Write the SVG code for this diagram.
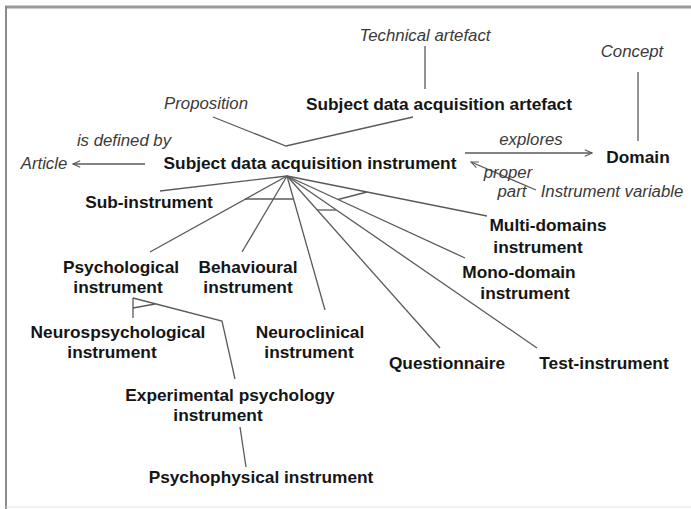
<svg xmlns="http://www.w3.org/2000/svg" width="691" height="509" viewBox="0 0 691 509">
<style>
.b{font-family:"Liberation Sans",Arial,sans-serif;font-weight:bold;font-size:17.3px;fill:#151515;text-anchor:middle}
.i{font-family:"Liberation Sans",Arial,sans-serif;font-style:italic;font-size:16.8px;fill:#3a3a3a;text-anchor:middle}
.c line,.c polyline{stroke:#5a5a5a;stroke-width:1.3;fill:none}
</style>
<defs>
<marker id="ah" viewBox="0 0 10 10" refX="9" refY="5" markerWidth="9" markerHeight="9" markerUnits="userSpaceOnUse" orient="auto">
<polyline points="1,1.5 9,5 1,8.5" fill="none" stroke="#5a5a5a" stroke-width="1.2"/>
</marker>
</defs>
<rect width="691" height="509" fill="#fff"/>
<g id="frame">
<line x1="5" y1="7" x2="691" y2="7" stroke="#9a9a9a" stroke-width="3"/>
<line x1="6" y1="6" x2="6" y2="509" stroke="#8a8a8a" stroke-width="2"/>
<line x1="6" y1="507" x2="691" y2="507" stroke="#e2e2e2" stroke-width="1"/>
</g>
<g id="connectors" class="c">
<line x1="425" y1="46" x2="425" y2="89"/>
<line x1="638" y1="72" x2="638" y2="141"/>
<polyline points="213,117 286,146 413,117"/>
<line x1="145" y1="164" x2="73" y2="164" marker-end="url(#ah)"/>
<line x1="465" y1="153" x2="592" y2="153" marker-end="url(#ah)"/>
<line x1="536" y1="190" x2="471" y2="162" marker-end="url(#ah)"/>
<line x1="287" y1="176" x2="160" y2="191"/>
<line x1="287" y1="176" x2="150" y2="252"/>
<line x1="287" y1="176" x2="242" y2="252"/>
<line x1="287" y1="176" x2="325" y2="310"/>
<line x1="287" y1="176" x2="440" y2="348"/>
<line x1="287" y1="176" x2="537" y2="348"/>
<line x1="287" y1="176" x2="465" y2="258"/>
<line x1="287" y1="176" x2="487" y2="216"/>
<line x1="245" y1="199" x2="293" y2="199"/>
<line x1="338" y1="199.5" x2="367" y2="192"/>
<line x1="317" y1="210" x2="336" y2="210"/>
<line x1="133" y1="298" x2="133" y2="318"/>
<polyline points="133,298 222,321 235,379"/>
<line x1="133" y1="308" x2="155" y2="304"/>
<line x1="240" y1="427" x2="246" y2="467"/>
</g>
<g id="technical-artefact"><text class="i" x="425" y="41">Technical artefact</text></g>
<g id="concept"><text class="i" x="632" y="57">Concept</text></g>
<g id="proposition"><text class="i" x="206" y="109">Proposition</text></g>
<g id="sda-artefact"><text class="b" x="439" y="110">Subject data acquisition artefact</text></g>
<g id="label-defined"><text class="i" x="124" y="146">is defined by</text></g>
<g id="label-explores"><text class="i" x="531" y="145">explores</text></g>
<g id="domain"><text class="b" x="638" y="163">Domain</text></g>
<g id="article"><text class="i" x="44" y="169">Article</text></g>
<g id="sda-instrument"><text class="b" x="310" y="169">Subject data acquisition instrument</text></g>
<g id="label-proper-part"><text class="i" x="508" y="178">proper</text><text class="i" x="512" y="197">part</text></g>
<g id="instrument-variable"><text class="i" x="612" y="197">Instrument variable</text></g>
<g id="sub-instrument"><text class="b" x="149" y="208">Sub-instrument</text></g>
<g id="multi-domains"><text class="b" x="548" y="231">Multi-domains</text><text class="b" x="538" y="253">instrument</text></g>
<g id="mono-domain"><text class="b" x="519" y="278">Mono-domain</text><text class="b" x="525" y="299">instrument</text></g>
<g id="psychological"><text class="b" x="121" y="273">Psychological</text><text class="b" x="118" y="293">instrument</text></g>
<g id="behavioural"><text class="b" x="248" y="273">Behavioural</text><text class="b" x="248" y="293">instrument</text></g>
<g id="neurospsychological"><text class="b" x="118" y="338">Neurospsychological</text><text class="b" x="112" y="358">instrument</text></g>
<g id="neuroclinical"><text class="b" x="310" y="338">Neuroclinical</text><text class="b" x="309" y="358">instrument</text></g>
<g id="questionnaire"><text class="b" x="447" y="369">Questionnaire</text></g>
<g id="test-instrument"><text class="b" x="604" y="369">Test-instrument</text></g>
<g id="experimental"><text class="b" x="230" y="401">Experimental psychology</text><text class="b" x="218" y="421">instrument</text></g>
<g id="psychophysical"><text class="b" x="261" y="483">Psychophysical instrument</text></g>
</svg>
